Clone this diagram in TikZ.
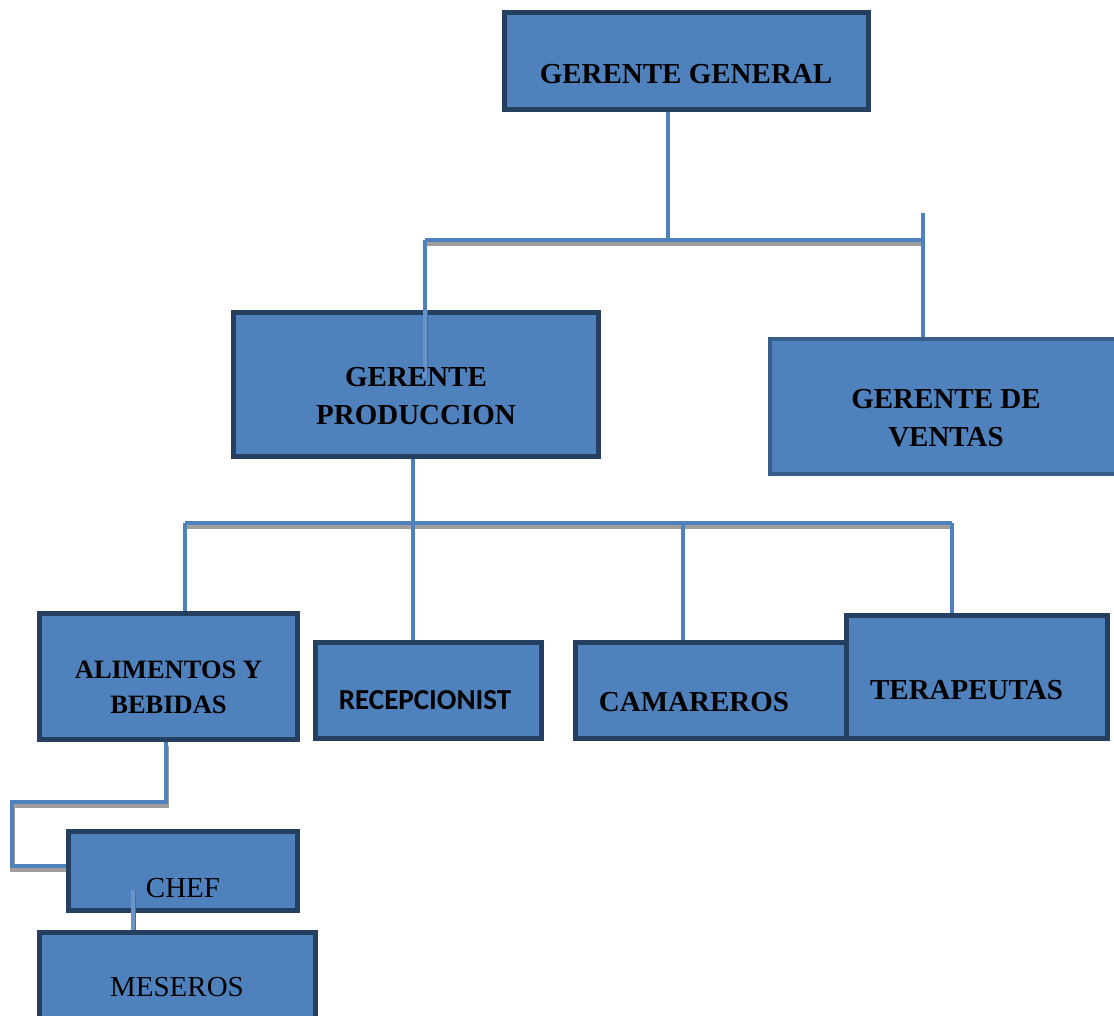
\documentclass[tikz,border=0pt]{standalone}
\usepackage{fontspec}
\setmainfont{Liberation Serif}
\newfontfamily\calibri{Carlito}
\usetikzlibrary{calc}
\definecolor{boxfill}{RGB}{79,129,189}
\definecolor{boxline}{RGB}{36,63,96}
\definecolor{boxlinelt}{RGB}{56,93,138}
\definecolor{shadowgray}{RGB}{158,158,158}
\tikzset{
	box/.style={draw=boxline, line width=5pt, fill=boxfill, rectangle, inner sep=0pt},
	lbl/.style={inner sep=0pt, align=center, font=\bfseries\fontsize{29}{38}\selectfont},
	link/.style={draw=boxfill, line width=4.5pt},
	linkin/.style={draw=boxfill!85!white, line width=3.5pt,
		preaction={draw=boxfill!70!boxline, line width=5pt}},
	conn/.style={link,
		preaction={draw=shadowgray, line width=4.5pt, transform canvas={xshift=0.5pt, yshift=-4pt}}},
}

\begin{document}
\begin{tikzpicture}[x=1pt, y=-1pt]
			%%%%% START %%%%%
			\useasboundingbox (0,0) rectangle (1114,1015);
			\clip (0,0) rectangle (1114,1015);
			
			% junction points
			\coordinate (j1) at (668, 240);
			\coordinate (bus1-l) at (425, 240);
			\coordinate (bus1-r) at (923, 240);
			\coordinate (gp-in) at (425, 378);
			\coordinate (gv-stub) at (923, 213);
			\coordinate (j2) at (413, 523);
			\coordinate (bus2-l) at (185, 523);
			\coordinate (bus2-m) at (683, 523);
			\coordinate (bus2-r) at (952, 523);
			\coordinate (k1) at (166, 802);
			\coordinate (k2) at (12, 802);
			\coordinate (k3) at (12, 866);
			\coordinate (m1) at (133, 890);
			
			% connectors under the boxes
			\draw[conn] (bus1-l) -- (bus1-r);
			\draw[conn] (bus2-l) -- (bus2-r);
			\draw[conn] (k1 |- 0,742) -- (k1) -- (k2) -- (k3) -- (67, 866);
			
			% boxes
			\node[box, minimum width=364pt, minimum height=97pt] (gg) at (686.5, 61) {};
			\node[box, minimum width=365pt, minimum height=144pt] (gp) at (416, 384.5) {};
			\node[box, draw=boxlinelt, line width=4pt, minimum width=358pt, minimum height=135pt] (gv) at (949, 406.5) {};
			\node[box, minimum width=258pt, minimum height=126pt] (ali) at (168.5, 676.5) {};
			\node[box, minimum width=226pt, minimum height=96pt] (rec) at (428.5, 690.5) {};
			\node[box, minimum width=272pt, minimum height=96pt] (cam) at (711.5, 690.5) {};
			\node[box, minimum width=261pt, minimum height=123pt] (ter) at (977, 677) {};
			\node[box, minimum width=229pt, minimum height=79pt] (chef) at (183, 871) {};
			\node[box, minimum width=276pt, minimum height=165pt] (mes) at (177.5, 1015) {};
			
			% connectors ending at or inside the boxes
			\draw[link] (gg.south -| j1) -- (j1);
			\draw[link] (bus1-l) -- (gp.north -| bus1-l);
			\draw[linkin] (gp.north -| bus1-l) -- (gp-in);
			\draw[link] (gv-stub) -- (gv.north -| gv-stub);
			\draw[link] (gp.south -| j2) -- (rec.north -| j2);
			\draw[link] (bus2-l) -- (ali.north -| bus2-l);
			\draw[link] (bus2-m) -- (cam.north -| bus2-m);
			\draw[link] (bus2-r) -- (ter.north -| bus2-r);
			\draw[linkin] (mes.north -| m1) -- (m1);
			
			% texts
			\node[lbl] (gg-t) at (686, 74) {GERENTE GENERAL};
			\node[lbl] (gp-t) at (416, 396.5) {GERENTE\\PRODUCCION};
			\node[lbl] (gv-t) at (946, 418) {GERENTE DE\\VENTAS};
			\node[lbl, font=\bfseries\fontsize{26.5}{35}\selectfont] (ali-t) at (168.5, 687.5) {ALIMENTOS Y\\BEBIDAS};
			\node[lbl, font=\calibri\bfseries\fontsize{29}{35}\selectfont] (rec-t) at (425, 700) {RECEPCIONIST};
			\node[lbl] (cam-t) at (694, 702) {CAMAREROS};
			\node[lbl] (ter-t) at (966.5, 690) {TERAPEUTAS};
			\node[lbl, font=\fontsize{29}{35}\selectfont] (chef-t) at (183, 888) {CHEF};
			\node[lbl, font=\fontsize{29}{35}\selectfont] (mes-t) at (177, 987.5) {MESEROS};
			%%%%% END %%%%%
\end{tikzpicture}
\end{document}
